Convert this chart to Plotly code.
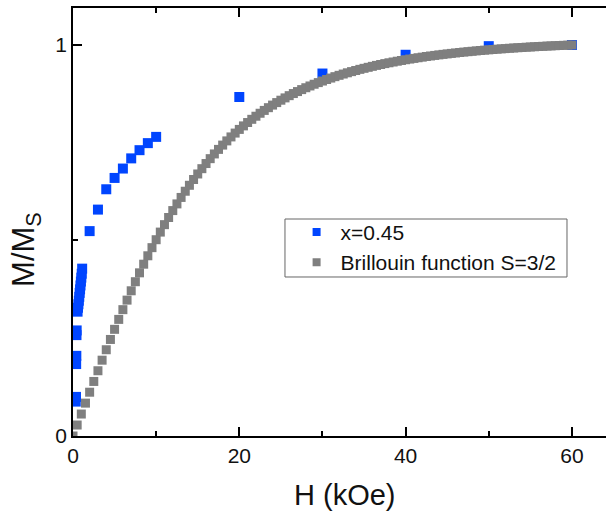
import plotly.graph_objects as go

# ---- data: x = 0.45 sample ----
h_exp = [0.33, 0.36, 0.38, 0.40, 0.42, 0.44, 0.55, 0.60, 0.65, 0.70, 0.75, 0.80,
         0.85, 0.90, 0.95, 1.00, 1.05, 1.10, 2, 3, 4, 5, 6, 7, 8, 9, 10,
         20, 30, 40, 50, 60]
m_exp = [0.088, 0.100, 0.184, 0.205, 0.258, 0.270, 0.318, 0.328, 0.337, 0.346,
         0.356, 0.366, 0.375, 0.385, 0.395, 0.405, 0.415, 0.428, 0.524, 0.579,
         0.631, 0.660, 0.684, 0.710, 0.731, 0.749, 0.765, 0.867, 0.927, 0.975,
         0.997, 1.000]

# ---- data: Brillouin function S=3/2 ----
h_bri = [0.0, 0.5, 1.0, 1.5, 2.0, 2.5, 3.0, 3.5, 4.0, 4.5, 5.0, 5.5, 6.0, 6.5, 7.0,
         7.5, 8.0, 8.5, 9.0, 9.5, 10.0, 10.5, 11.0, 11.5, 12.0, 12.5, 13.0, 13.5,
         14.0, 14.5, 15.0, 15.5, 16.0, 16.5, 17.0, 17.5, 18.0, 18.5, 19.0, 19.5,
         20.0, 20.5, 21.0, 21.5, 22.0, 22.5, 23.0, 23.5, 24.0, 24.5, 25.0, 25.5,
         26.0, 26.5, 27.0, 27.5, 28.0, 28.5, 29.0, 29.5, 30.0, 30.5, 31.0, 31.5,
         32.0, 32.5, 33.0, 33.5, 34.0, 34.5, 35.0, 35.5, 36.0, 36.5, 37.0, 37.5,
         38.0, 38.5, 39.0, 39.5, 40.0, 40.5, 41.0, 41.5, 42.0, 42.5, 43.0, 43.5,
         44.0, 44.5, 45.0, 45.5, 46.0, 46.5, 47.0, 47.5, 48.0, 48.5, 49.0, 49.5,
         50.0, 50.5, 51.0, 51.5, 52.0, 52.5, 53.0, 53.5, 54.0, 54.5, 55.0, 55.5,
         56.0, 56.5, 57.0, 57.5, 58.0, 58.5, 59.0, 59.5, 60.0]
m_bri = [0.0000, 0.0281, 0.0562, 0.0841, 0.1120, 0.1395, 0.1669, 0.1939, 0.2206,
         0.2469, 0.2728, 0.2982, 0.3231, 0.3475, 0.3714, 0.3946, 0.4173, 0.4394,
         0.4609, 0.4817, 0.5020, 0.5215, 0.5405, 0.5588, 0.5765, 0.5936, 0.6101,
         0.6260, 0.6412, 0.6560, 0.6701, 0.6837, 0.6968, 0.7093, 0.7214, 0.7330,
         0.7440, 0.7547, 0.7649, 0.7747, 0.7841, 0.7931, 0.8017, 0.8099, 0.8178,
         0.8254, 0.8327, 0.8397, 0.8463, 0.8527, 0.8588, 0.8647, 0.8704, 0.8758,
         0.8809, 0.8859, 0.8907, 0.8952, 0.8996, 0.9038, 0.9078, 0.9117, 0.9154,
         0.9190, 0.9224, 0.9257, 0.9289, 0.9319, 0.9348, 0.9377, 0.9403, 0.9429,
         0.9454, 0.9478, 0.9501, 0.9524, 0.9545, 0.9565, 0.9585, 0.9604, 0.9623,
         0.9640, 0.9657, 0.9674, 0.9689, 0.9705, 0.9719, 0.9733, 0.9747, 0.9760,
         0.9772, 0.9785, 0.9796, 0.9808, 0.9819, 0.9829, 0.9839, 0.9849, 0.9859,
         0.9868, 0.9876, 0.9885, 0.9893, 0.9901, 0.9908, 0.9916, 0.9923, 0.9930,
         0.9936, 0.9943, 0.9949, 0.9955, 0.9961, 0.9966, 0.9972, 0.9977, 0.9982,
         0.9987, 0.9991, 0.9996, 1.0000]

x_ticks = [0, 20, 40, 60]
x_minor = [10, 30, 50]
y_ticks = [0, 1]
y_minor = [0.5]

FONT = "Liberation Sans, Arial, sans-serif"
BLUE = "#0045ff"
GRAY = "#7f7f7f"
TXT = "#111111"

fig = go.Figure()
fig.add_trace(go.Scatter(
    x=h_exp, y=m_exp, mode="markers", name="x=0.45", showlegend=False,
    marker=dict(symbol="square", size=10, color=BLUE, line=dict(width=0)),
))
fig.add_trace(go.Scatter(
    x=h_bri, y=m_bri, mode="markers", name="Brillouin function S=3/2",
    showlegend=False,
    marker=dict(symbol="square", size=9, color=GRAY, line=dict(width=0)),
))
# legend entries (smaller symbols, as in the reference legend)
fig.add_trace(go.Scatter(
    x=[None], y=[None], mode="markers", name="x=0.45",
    marker=dict(symbol="square", size=8, color=BLUE, line=dict(width=0)),
))
fig.add_trace(go.Scatter(
    x=[None], y=[None], mode="markers", name="Brillouin function S=3/2",
    marker=dict(symbol="square", size=8, color=GRAY, line=dict(width=0)),
))

axis_common = dict(
    showline=True, linecolor="black", linewidth=1.5,
    ticks="inside", tickcolor="black", tickwidth=1.5, ticklen=9,
    showgrid=False, zeroline=False,
    tickfont=dict(family=FONT, size=21, color=TXT),
)

fig.update_xaxes(
    range=[0, 64.1], tickmode="array", tickvals=x_ticks,
    ticktext=[str(v) for v in x_ticks], mirror="ticks",
    minor=dict(tickmode="array", tickvals=x_minor, ticks="inside", ticklen=5,
               tickcolor="black", tickwidth=1.5),
    **axis_common,
)
fig.update_yaxes(
    range=[0, 1.0946], tickmode="array", tickvals=y_ticks,
    ticktext=[str(v) for v in y_ticks], mirror=False,
    minor=dict(tickmode="array", tickvals=y_minor, ticks="inside", ticklen=5,
               tickcolor="black", tickwidth=1.5),
    **axis_common,
)

fig.add_annotation(text="H (kOe)", xref="paper", yref="paper", x=0.51, y=-0.138,
                   xanchor="center", yanchor="middle", showarrow=False,
                   font=dict(family=FONT, size=29, color=TXT))
fig.add_annotation(text="M/M<sub>S</sub>", xref="paper", yref="paper", x=-0.088,
                   y=0.435, xanchor="center", yanchor="middle", showarrow=False,
                   textangle=-90, font=dict(family=FONT, size=31, color=TXT))

# legend frame
fig.add_shape(type="rect", xref="paper", yref="paper",
              x0=0.3977, x1=0.9268, y0=0.3715, y1=0.507,
              line=dict(color="#666666", width=1), fillcolor="rgba(0,0,0,0)")

fig.update_layout(
    width=606, height=514,
    margin=dict(l=73, r=0, t=8, b=78),
    paper_bgcolor="white", plot_bgcolor="white",
    showlegend=True,
    legend=dict(x=0.412, y=0.524, xanchor="left", yanchor="top",
                bgcolor="rgba(0,0,0,0)", borderwidth=0,
                font=dict(family=FONT, size=21, color=TXT),
                itemwidth=38, tracegroupgap=0),
)

fig.write_html("out.html")
